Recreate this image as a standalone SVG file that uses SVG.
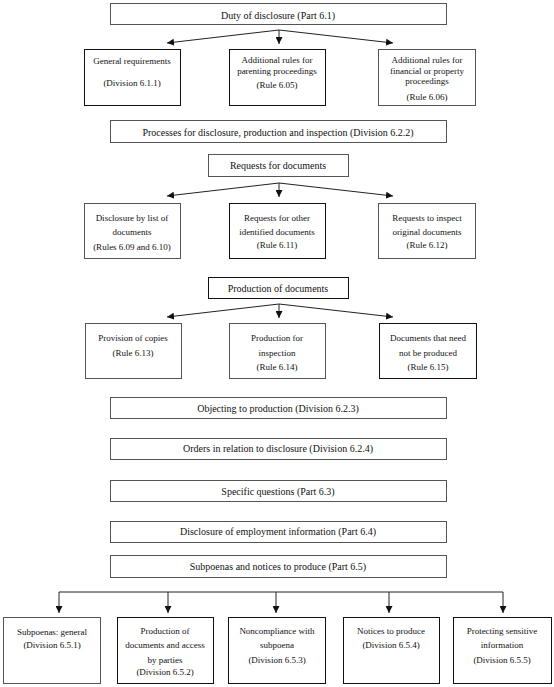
<svg xmlns="http://www.w3.org/2000/svg" width="554" height="687" viewBox="0 0 554 687">
<defs>
<marker id="ah" markerUnits="userSpaceOnUse" markerWidth="7" markerHeight="7" refX="7" refY="3.5" orient="auto">
<path d="M0,0 L7,3.5 L0,7 Z" fill="#111"/>
</marker>
<style>
rect{fill:#fff;stroke:#555;stroke-width:1}
rect.d{stroke:#111}
text{font-family:"Liberation Serif","DejaVu Serif",serif;fill:#111;text-anchor:middle;dominant-baseline:central}
.h{font-size:10px}
.b{font-size:9px}
.c line{stroke:#222;stroke-width:1;fill:none}
.c .a{marker-end:url(#ah)}
</style>
</defs>
<rect x="0" y="0" width="554" height="687" style="fill:#fff;stroke:none"/>
<g class="c" id="connectors">
<line x1="279" y1="30" x2="167" y2="43" class="a"/>
<line x1="279" y1="30" x2="279" y2="44" class="a"/>
<line x1="279" y1="30" x2="393" y2="43" class="a"/>
<line x1="279" y1="183" x2="167" y2="196" class="a"/>
<line x1="279" y1="183" x2="279" y2="197" class="a"/>
<line x1="279" y1="183" x2="393" y2="196" class="a"/>
<line x1="279" y1="304" x2="167" y2="317" class="a"/>
<line x1="279" y1="304" x2="279" y2="318" class="a"/>
<line x1="279" y1="304" x2="393" y2="317" class="a"/>
<line x1="59" y1="592" x2="503" y2="592"/>
<line x1="59" y1="592" x2="59" y2="613" class="a"/>
<line x1="168" y1="592" x2="168" y2="613" class="a"/>
<line x1="276" y1="592" x2="276" y2="613" class="a"/>
<line x1="389" y1="592" x2="389" y2="613" class="a"/>
<line x1="503" y1="592" x2="503" y2="613" class="a"/>
</g>
<g id="n-duty"><rect x="110.5" y="3.5" width="336" height="21"/><text class="h" x="278" y="15">Duty of disclosure (Part 6.1)</text></g>
<g id="n-general"><rect class="d" x="84.5" y="49.5" width="96" height="56"/><text class="b" x="132" y="61">General requirements</text><text class="b" x="132" y="83">(Division 6.1.1)</text></g>
<g id="n-parenting"><rect class="d" x="229.5" y="49.5" width="96" height="56"/><text class="b" x="277" y="60">Additional rules for</text><text class="b" x="277" y="71">parenting proceedings</text><text class="b" x="277" y="85">(Rule 6.05)</text></g>
<g id="n-financial"><rect x="378.5" y="49.5" width="97" height="56"/><text class="b" x="427" y="60">Additional rules for</text><text class="b" x="427" y="71">financial or property</text><text class="b" x="427" y="81">proceedings</text><text class="b" x="427" y="97">(Rule 6.06)</text></g>
<g id="n-processes"><rect x="110.5" y="120.5" width="336" height="22"/><text class="h" x="278" y="132">Processes for disclosure, production and inspection (Division 6.2.2)</text></g>
<g id="n-requests"><rect x="208.5" y="154.5" width="140" height="22"/><text class="h" x="278" y="165">Requests for documents</text></g>
<g id="n-list"><rect x="84.5" y="203.5" width="96" height="55"/><text class="b" x="132" y="218">Disclosure by list of</text><text class="b" x="132" y="232">documents</text><text class="b" x="132" y="247">(Rules 6.09 and 6.10)</text></g>
<g id="n-other"><rect class="d" x="229.5" y="203.5" width="96" height="55"/><text class="b" x="277" y="218">Requests for other</text><text class="b" x="277" y="232">identified documents</text><text class="b" x="277" y="245">(Rule 6.11)</text></g>
<g id="n-inspect"><rect x="378.5" y="203.5" width="97" height="55"/><text class="b" x="427" y="218">Requests to inspect</text><text class="b" x="427" y="232">original documents</text><text class="b" x="427" y="245">(Rule 6.12)</text></g>
<g id="n-production"><rect class="d" x="208.5" y="277.5" width="140" height="21"/><text class="h" x="278" y="288">Production of documents</text></g>
<g id="n-copies"><rect x="85.5" y="323.5" width="96" height="55"/><text class="b" x="133" y="338">Provision of copies</text><text class="b" x="133" y="353">(Rule 6.13)</text></g>
<g id="n-forinspection"><rect x="229.5" y="323.5" width="96" height="55"/><text class="b" x="277" y="338">Production for</text><text class="b" x="277" y="353">inspection</text><text class="b" x="277" y="367">(Rule 6.14)</text></g>
<g id="n-notproduced"><rect class="d" x="379.5" y="323.5" width="97" height="55"/><text class="b" x="428" y="338">Documents that need</text><text class="b" x="428" y="353">not be produced</text><text class="b" x="428" y="367">(Rule 6.15)</text></g>
<g id="n-objecting"><rect x="110.5" y="397.5" width="336" height="21"/><text class="h" x="278" y="408">Objecting to production (Division 6.2.3)</text></g>
<g id="n-orders"><rect x="110.5" y="438.5" width="336" height="21"/><text class="h" x="278" y="448">Orders in relation to disclosure (Division 6.2.4)</text></g>
<g id="n-specific"><rect x="110.5" y="480.5" width="336" height="21"/><text class="h" x="278" y="491">Specific questions (Part 6.3)</text></g>
<g id="n-employment"><rect x="110.5" y="521.5" width="336" height="21"/><text class="h" x="278" y="531">Disclosure of employment information (Part 6.4)</text></g>
<g id="n-subpoenas"><rect x="110.5" y="555.5" width="336" height="22"/><text class="h" x="278" y="566">Subpoenas and notices to produce (Part 6.5)</text></g>
<g id="n-sgeneral"><rect x="3.5" y="617.5" width="97" height="66"/><text class="b" x="52" y="632">Subpoenas: general</text><text class="b" x="52" y="645">(Division 6.5.1)</text></g>
<g id="n-access"><rect class="d" x="117.5" y="617.5" width="96" height="66"/><text class="b" x="165" y="631">Production of</text><text class="b" x="165" y="645">documents and access</text><text class="b" x="165" y="660">by parties</text><text class="b" x="165" y="672">(Division 6.5.2)</text></g>
<g id="n-noncompliance"><rect class="d" x="228.5" y="617.5" width="97" height="66"/><text class="b" x="277" y="631">Noncompliance with</text><text class="b" x="277" y="645">subpoena</text><text class="b" x="277" y="660">(Division 6.5.3)</text></g>
<g id="n-notices"><rect class="d" x="343.5" y="617.5" width="96" height="66"/><text class="b" x="391" y="631">Notices to produce</text><text class="b" x="391" y="645">(Division 6.5.4)</text></g>
<g id="n-sensitive"><rect class="d" x="453.5" y="617.5" width="98" height="66"/><text class="b" x="502" y="631">Protecting sensitive</text><text class="b" x="502" y="645">information</text><text class="b" x="502" y="660">(Division 6.5.5)</text></g>
</svg>
